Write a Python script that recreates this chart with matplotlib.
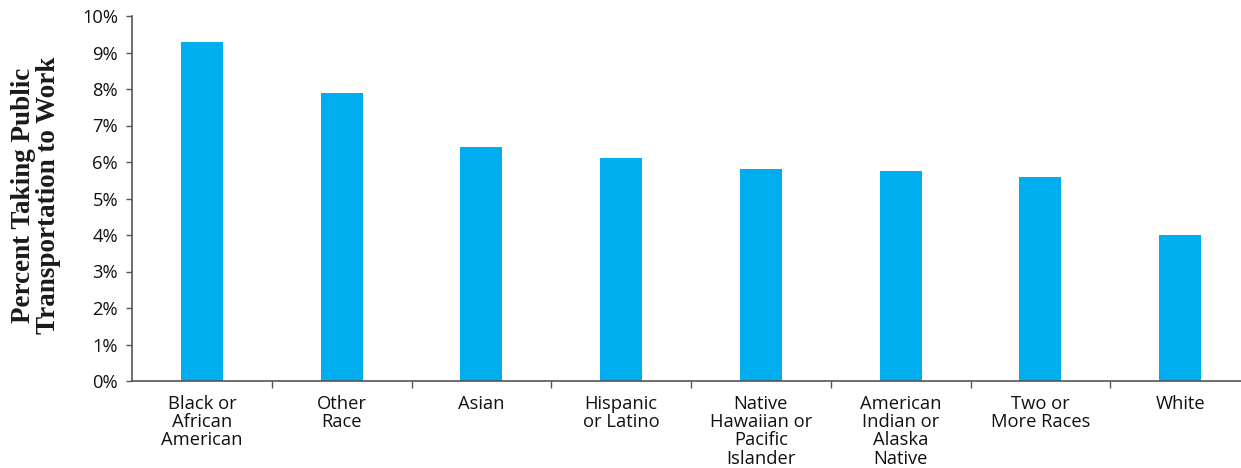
import matplotlib.pyplot as plt
import numpy as np
from matplotlib.ticker import FixedLocator, PercentFormatter

# Share of workers taking public transportation, by race/ethnicity
categories = [
    "Black or\nAfrican\nAmerican",
    "Other\nRace",
    "Asian",
    "Hispanic\nor Latino",
    "Native\nHawaiian or\nPacific\nIslander",
    "American\nIndian or\nAlaska\nNative",
    "Two or\nMore Races",
    "White",
]
percent_transit = [9.3, 7.9, 6.4, 6.1, 5.8, 5.75, 5.6, 4.0]
y_ticks = list(range(0, 11))

plt.rcParams['font.family'] = ['Open Sans', 'DejaVu Sans']

fig = plt.figure(figsize=(12.41, 4.68), dpi=100)
W, H = 1241, 468
left, right, top, bottom = 132, 1250, 16, 381
ax = fig.add_axes([left / W, 1 - bottom / H, (right - left) / W, (bottom - top) / H])

x = np.arange(len(categories))
ax.bar(x, percent_transit, width=0.3, color='#00AEEF')

ax.set_xlim(-0.5, len(categories) - 0.5)
ax.set_ylim(0, 10)
ax.set_yticks(y_ticks)
ax.yaxis.set_major_formatter(PercentFormatter(decimals=0))

ax.set_xticks(x)
ax.set_xticklabels(categories, fontsize=13.2, color='#111111', linespacing=1.02,
                   fontweight='medium')
ax.tick_params(axis='x', which='major', length=0, pad=10)
ax.xaxis.set_minor_locator(FixedLocator(np.arange(0.5, len(categories) - 0.5, 1)))
ax.tick_params(axis='x', which='minor', length=5, width=1, color='#555555')
ax.tick_params(axis='y', length=4, width=1, color='#555555', labelsize=13.2,
               labelcolor='#111111', pad=6)
for lbl in ax.get_yticklabels():
    lbl.set_fontweight('medium')

for side in ['top', 'right']:
    ax.spines[side].set_visible(False)
for side in ['left', 'bottom']:
    ax.spines[side].set_color('#555555')
    ax.spines[side].set_linewidth(1.2)

fig.text(36 / W, 1 - 195 / H, "Percent Taking Public\nTransportation to Work",
         rotation=90, ha='center', va='center', fontsize=19.5, fontweight='bold',
         family='Liberation Serif', color='#1a1a1a', linespacing=0.95)

fig.savefig('out.png', dpi=100)
